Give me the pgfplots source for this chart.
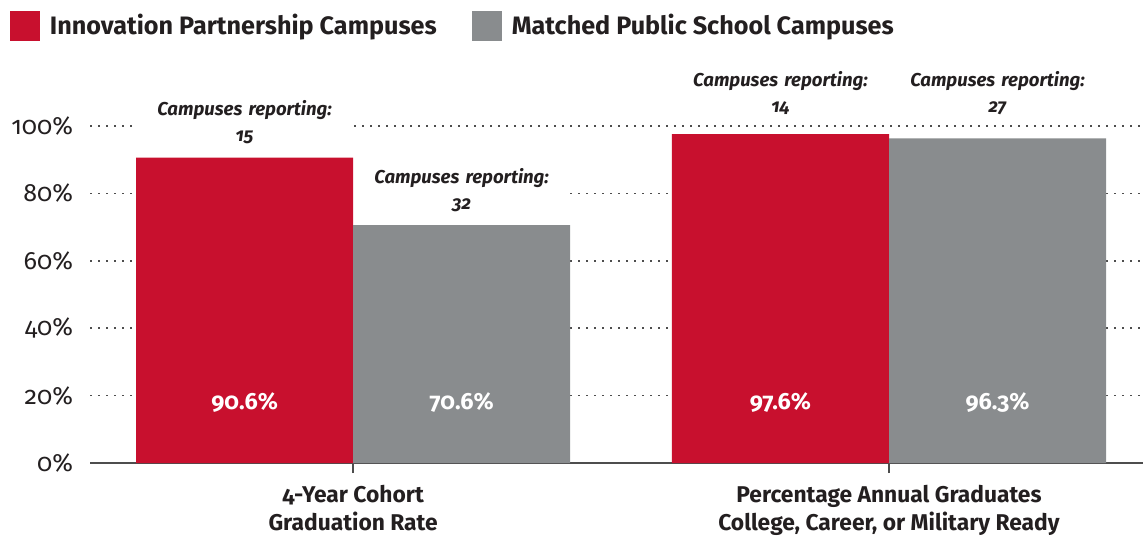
\documentclass[border=0pt]{standalone}
\usepackage{pgfplots}
\pgfplotsset{compat=1.18}
\usepackage{fontspec}
\setmainfont{Fira Sans}[Numbers=OldStyle]
\definecolor{ipred}{HTML}{C8102E}
\definecolor{mgray}{HTML}{898C8E}
\definecolor{ink}{HTML}{231F20}
\definecolor{rulegray}{HTML}{4D4D4D}

\begin{document}
\begin{tikzpicture}
\useasboundingbox (0,0) rectangle (571.5pt,268.5pt);
\begin{axis}[
  at={(45pt,37pt)}, anchor=south west,
  scale only axis, width=526.5pt, height=168.5pt,
  xmin=-0.491, xmax=1.474, ymin=0, ymax=100,
  ybar=0pt, bar width=0.405,
  axis x line*=bottom, axis y line*=left,
  x axis line style={-, rulegray, line width=1pt},
  y axis line style={draw=none},
  tick align=outside, major tick length=5pt,
  xtick={0,1},
  xticklabels={{4-Year Cohort\\Graduation Rate},
               {Percentage Annual Graduates\\College, Career, or Military Ready}},
  xticklabel style={align=center, text=ink, yshift=-2.5pt,
                    font=\bfseries\fontsize{11.4}{14}\selectfont},
  xtick style={draw=rulegray, line width=0.8pt},
  ytick={0,20,40,60,80,100},
  yticklabels={0\%,20\%,40\%,60\%,80\%,100\%},
  yticklabel style={text=ink, font=\fontsize{12.5}{15}\selectfont},
  ytick style={draw=none},
  ymajorgrids,
  grid style={rulegray, line width=0.8pt, dash pattern=on 0.8pt off 3.2pt},
  clip=false,
  legend columns=2,
  legend style={at={(-0.076,1.344)}, anchor=north west, draw=none, fill=none,
    inner sep=0pt, outer sep=0pt, text=ink,
    font=\bfseries\fontsize{12.6}{15}\selectfont,
    /tikz/every odd column/.append style={column sep=3pt},
    /tikz/every even column/.append style={column sep=15.5pt}},
  legend image code/.code={\fill[#1] (0pt,-7.5pt) rectangle (15pt,7.5pt);},
]
\addplot[fill=ipred, draw=none] coordinates {(0,90.6) (1,97.6)};
\addlegendentry{Innovation Partnership Campuses}
\addplot[fill=mgray, draw=none] coordinates {(0,70.6) (1,96.3)};
\addlegendentry{Matched Public School Campuses}

% values inside the bars
\begin{scope}[every node/.style={text=white, font=\bfseries\fontsize{11.7}{13}\selectfont}]
\node at (axis cs:-0.2025,18) {90.6\%};
\node at (axis cs:0.2025,18) {70.6\%};
\node at (axis cs:0.7975,18) {97.6\%};
\node at (axis cs:1.2025,18) {96.3\%};
\end{scope}

% campuses reporting
\begin{scope}[every node/.style={fill=white, text=ink, align=center,
    text width=108pt, inner xsep=0pt, inner ysep=2pt,
    font=\bfseries\itshape\fontsize{9.3}{13}\selectfont}]
\node at (axis cs:-0.2025,101.3) {Campuses reporting:\\15};
\node at (axis cs:0.2025,80.9) {Campuses reporting:\\32};
\node at (axis cs:0.7975,109.8) {Campuses reporting:\\14};
\node at (axis cs:1.2025,109.8) {Campuses reporting:\\27};
\end{scope}
\end{axis}
\end{tikzpicture}
\end{document}
